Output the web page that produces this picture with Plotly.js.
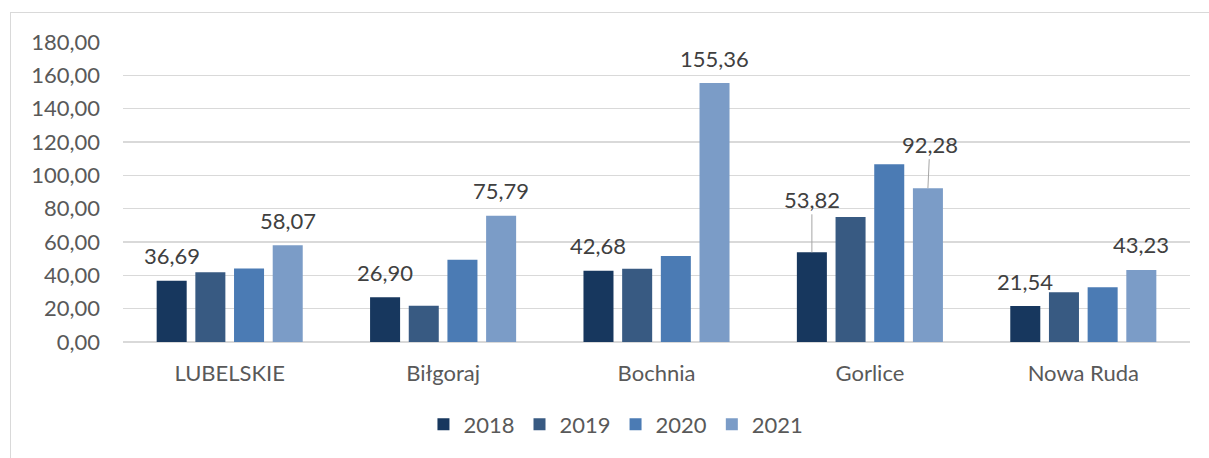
<!DOCTYPE html>
<html>
<head>
<meta charset="utf-8">
<script src="https://cdn.plot.ly/plotly-3.0.1.min.js"></script>
<style>
  body { margin: 0; background: #fff; }
  #chart { width: 1209px; height: 458px; }
  #frame { position: absolute; left: 10px; top: 12px; width: 1220px; height: 460px;
           border-left: 1px solid #d9d9d9; border-top: 1px solid #d9d9d9; pointer-events: none; }
</style>
</head>
<body>
<div id="chart"></div>
<div id="frame"></div>
<script>
// categories and series
const towns = ['LUBELSKIE', 'Biłgoraj', 'Bochnia', 'Gorlice', 'Nowa Ruda'];
const years = ['2018', '2019', '2020', '2021'];
const v2018 = [36.69, 26.90, 42.68, 53.82, 21.54];
const v2019 = [41.9, 21.8, 43.9, 75.0, 29.8];
const v2020 = [44.1, 49.4, 51.6, 106.6, 32.9];
const v2021 = [58.07, 75.79, 155.36, 92.28, 43.23];
const colors = ['#17375e', '#385a82', '#4b7bb4', '#7b9cc7'];

const series = [v2018, v2019, v2020, v2021];
const fmt = v => v.toFixed(2).replace('.', ',');
const font = 'Lato, "Noto Sans", sans-serif';

const data = series.map((vals, i) => ({
    x: towns,
    y: vals,
    type: 'bar',
    name: years[i],
    marker: { color: colors[i] },
    hoverinfo: 'skip'
}));

// data labels only on 2018 and 2021 bars; Gorlice ones pulled up with leader lines
const bargap = 0.275;
const slot = (1 - bargap) / 4;
const annotations = [];
[0, 3].forEach(si => {
    series[si].forEach((v, ci) => {
        const xpos = ci + (si - 1.5) * slot;
        const a = {
            x: xpos, y: v, xref: 'x', yref: 'y',
            text: fmt(v),
            font: { family: font, size: 22, color: '#404040' },
            showarrow: false, yanchor: 'middle', yshift: 25
        };
        if (towns[ci] === 'Gorlice') {
            a.showarrow = true;
            a.arrowhead = 0;
            a.arrowwidth = 1;
            a.arrowcolor = '#a6a6a6';
            a.ax = si === 0 ? 0 : 2;
            a.ay = si === 0 ? -53 : -44;
            a.yshift = 0;
            a.yanchor = 'auto';
        }
        annotations.push(a);
    });
});

const layout = {
    width: 1209,
    height: 458,
    margin: { l: 123, r: 19, t: 42, b: 114 },
    paper_bgcolor: '#fff',
    plot_bgcolor: '#fff',
    barmode: 'group',
    bargap: bargap,
    bargroupgap: 0.224,
    font: { family: font, size: 22, color: '#595959' },
    xaxis: {
        type: 'category',
        showgrid: false,
        showline: false,
        ticks: '',
        ticklabelstandoff: 16,
        tickfont: { family: font, size: 22, color: '#595959' }
    },
    yaxis: {
        range: [0, 180],
        dtick: 20,
        tickformat: '.2f',
        gridcolor: '#d9d9d9',
        gridwidth: 1.5,
        zeroline: true,
        zerolinecolor: '#d9d9d9',
        zerolinewidth: 1.5,
        showline: false,
        ticks: '',
        ticklabelstandoff: 22,
        tickfont: { family: font, size: 22, color: '#595959' }
    },
    separators: ',.',
    showlegend: true,
    legend: {
        orientation: 'h',
        x: 0.462, xanchor: 'center',
        y: -0.205, yanchor: 'top',
        font: { family: font, size: 22, color: '#595959' },
        itemwidth: 30,
        traceorder: 'normal'
    },
    annotations: annotations
};

Plotly.newPlot('chart', data, layout, { displayModeBar: false, staticPlot: true });
</script>
</body>
</html>
